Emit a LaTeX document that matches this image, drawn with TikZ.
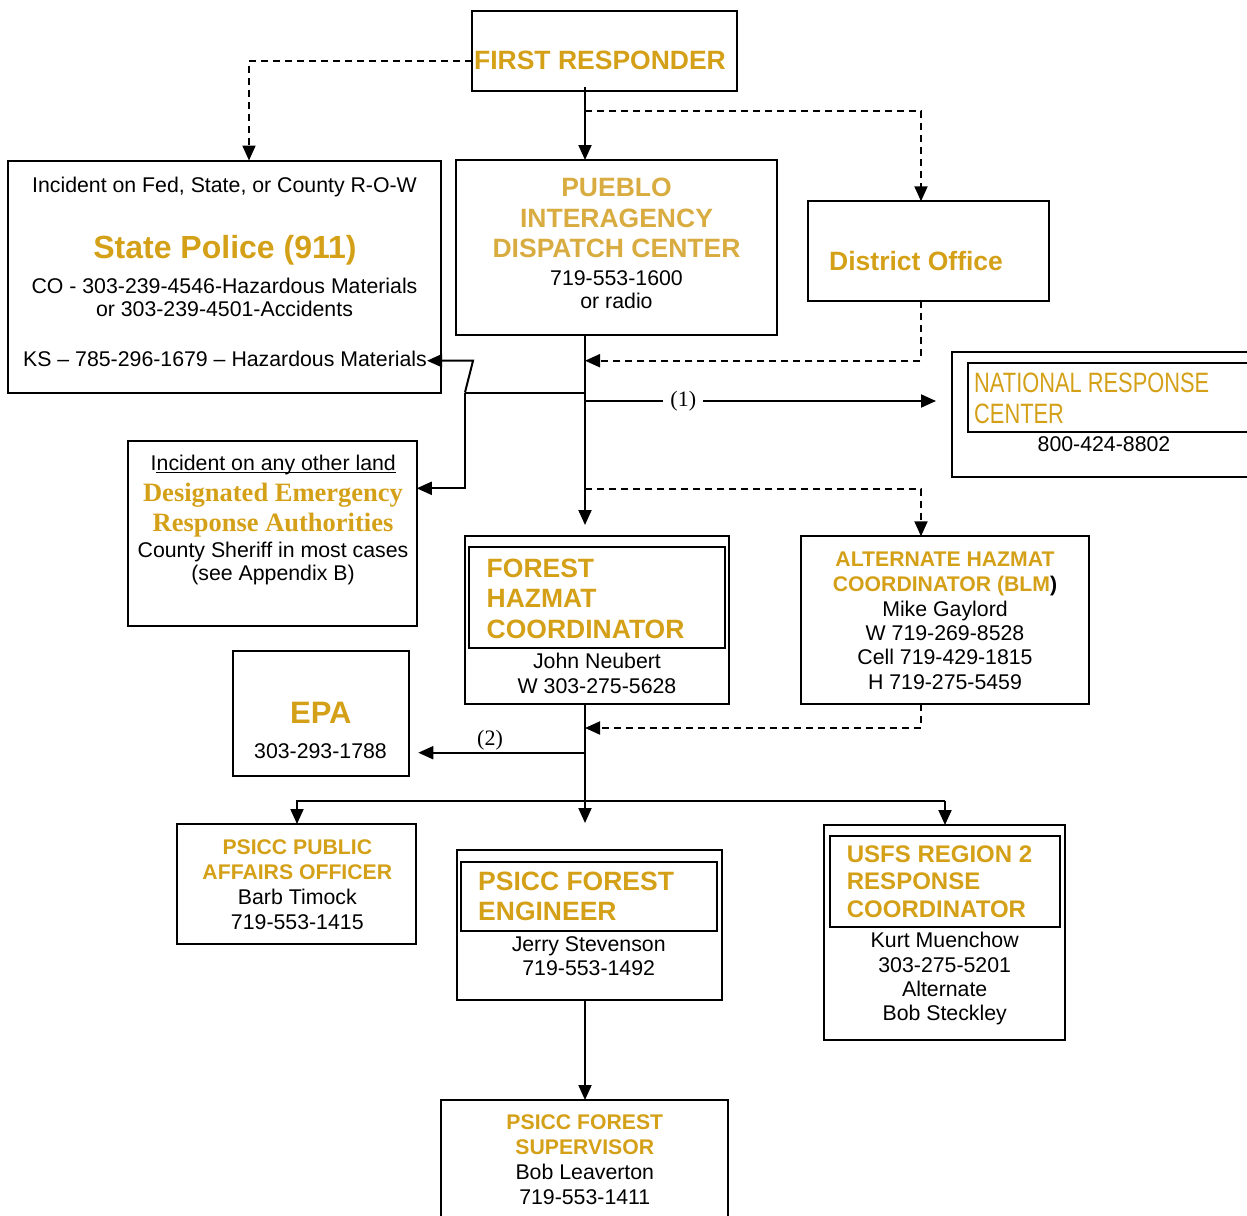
\documentclass[tikz,border=0pt]{standalone}
\usepackage{graphicx}
\usepackage{fontspec}
\setmainfont{Liberation Sans}
\newfontfamily\timesf{Liberation Serif}
\usetikzlibrary{arrows.meta}
\definecolor{gold}{RGB}{212,160,23}
\definecolor{goldlt}{RGB}{216,172,64}
\newcommand\txtlines[6]{\foreach \tline [count=\i] in {#6} {\node[#5] (#1\i) at (#2,{#3+(\i-1)*#4}) {\tline};}}
\tikzset{
  box/.style={draw, line width=2pt, inner sep=0pt, outer sep=0pt},
  ghost/.style={inner sep=0pt, outer sep=0pt},
  body/.style={font=\fontsize{21.3}{24}\selectfont, inner sep=0pt, anchor=base},
  title/.style={font=\bfseries\fontsize{26.5}{30}\selectfont, text=gold, inner sep=0pt, anchor=base},
  stitle/.style={font=\bfseries\fontsize{21.2}{24}\selectfont, text=gold, inner sep=0pt, anchor=base},
  conn/.style={line width=2pt},
  arr/.style={conn, -{Triangle[length=15pt,width=13pt]}},
  dl/.style={dash pattern=on 7pt off 5pt},
  lbl/.style={font=\timesf\fontsize{22}{24}\selectfont, inner sep=0pt},
}
\begin{document}
\begin{tikzpicture}[x=1pt,y=-1pt]
\useasboundingbox (0,0) rectangle (1247,1215);

% ---------- boxes ----------
\node[box, minimum width=265pt, minimum height=80pt] (fr) at (604.5,51) {};
\node[title] (frt) at (600,70) {FIRST RESPONDER};

\node[box, minimum width=433pt, minimum height=232pt] (sp) at (224.5,276.5) {};
\node[body] (sp1) at (224.5,192.3) {Incident on Fed, State, or County R-O-W};
\node[title, font=\bfseries\fontsize{32}{36}\selectfont] (sp2) at (225,258) {State Police (911)};
\txtlines{spb}{224.5}{293}{23.7}{body}{CO - 303-239-4546-Hazardous Materials, or 303-239-4501-Accidents}
\node[body] (sp5) at (225,366) {KS – 785-296-1679 – Hazardous Materials};

\node[box, minimum width=321pt, minimum height=175pt] (pd) at (616.5,247.5) {};
\txtlines{pdt}{616.5}{196.7}{30.3}{title, text=goldlt}{PUEBLO, INTERAGENCY, DISPATCH CENTER}
\txtlines{pdb}{616.5}{285}{23.3}{body}{719-553-1600, or radio}

\node[box, minimum width=241pt, minimum height=100pt] (do) at (928.5,251.3) {};
\node[title, anchor=base west] (dot) at (829,270) {District Office};

\node[ghost, minimum width=295pt, minimum height=125pt] (nrc) at (1099.5,414) {};
\draw[conn] (nrc.north east) -- (nrc.north west) -- (nrc.south west) -- (nrc.south east);
\node[ghost, minimum width=280pt, minimum height=68.5pt] (nrci) at (1107.5,397.5) {};
\draw[conn] (nrci.north east) -- (nrci.north west) -- (nrci.south west) -- (nrci.south east);
\node[font=\fontsize{28}{31}\selectfont, text=gold, anchor=base west, inner sep=0pt] (nrct1) at (974,392.3) {\scalebox{0.78}[1]{NATIONAL RESPONSE}};
\node[font=\fontsize{28}{31}\selectfont, text=gold, anchor=base west, inner sep=0pt] (nrct2) at (974,423.3) {\scalebox{0.78}[1]{CENTER}};
\node[body] (nrcb) at (1104,451.7) {800-424-8802};

\node[box, minimum width=288.5pt, minimum height=185pt] (de) at (272.5,533.5) {};
\node[body] (de1) at (273.3,470.7) {Incident on any other land};
\draw[line width=1.2pt] ([xshift=5pt,yshift=-1.8pt]de1.base west) -- ([yshift=-1.8pt]de1.base east);
\txtlines{det}{273}{501.7}{30}{title, font=\timesf\bfseries\fontsize{26.5}{30}\selectfont}{Designated Emergency, Response Authorities}
\txtlines{deb}{273}{557.3}{23.4}{body}{County Sheriff in most cases, (see Appendix B)}

\node[box, minimum width=264pt, minimum height=168pt] (fh) at (596.5,620.3) {};
\node[box, minimum width=255.5pt, minimum height=100.4pt] (fhi) at (596.8,597.5) {};
\txtlines{fht}{486.5}{577.3}{30.5}{title, anchor=base west}{FOREST, HAZMAT, COORDINATOR}
\txtlines{fhb}{597}{668.3}{25}{body}{John Neubert, W 303-275-5628}

\node[box, minimum width=288pt, minimum height=168pt] (ah) at (944.7,620.3) {};
\txtlines{aht}{945}{566.7}{25}{stitle}{ALTERNATE HAZMAT, {COORDINATOR (BLM\textcolor{black}{)}}}
\txtlines{ahb}{945}{616}{24.4}{body}{Mike Gaylord, W 719-269-8528, Cell 719-429-1815, H 719-275-5459}

\node[box, minimum width=176.5pt, minimum height=125pt] (epa) at (320.8,713) {};
\node[title, font=\bfseries\fontsize{31}{34}\selectfont] (epat) at (320.8,723.3) {EPA};
\node[body] (epab) at (320.5,758.3) {303-293-1788};

\node[box, minimum width=239.5pt, minimum height=120pt] (pa) at (296.7,884) {};
\txtlines{pat}{297.3}{854.3}{25}{stitle}{PSICC PUBLIC, AFFAIRS OFFICER}
\txtlines{pab}{297.3}{904.3}{24.7}{body}{Barb Timock, 719-553-1415}

\node[box, minimum width=265pt, minimum height=150pt] (fe) at (589.3,925) {};
\node[box, minimum width=256pt, minimum height=69pt] (fei) at (589,896.2) {};
\txtlines{fet}{478}{890.7}{29.3}{title, anchor=base west}{PSICC FOREST, ENGINEER}
\txtlines{feb}{588.7}{951.7}{24}{body}{Jerry Stevenson, 719-553-1492}

\node[box, minimum width=240.7pt, minimum height=215pt] (us) at (944.7,932.5) {};
\node[box, minimum width=230pt, minimum height=91.6pt] (usi) at (945,881.5) {};
\txtlines{ust}{846.7}{862.3}{27.5}{title, anchor=base west, font=\bfseries\fontsize{24}{27}\selectfont}{USFS REGION 2, RESPONSE, COORDINATOR}
\txtlines{usb}{944.7}{947.7}{24.4}{body}{Kurt Muenchow, 303-275-5201, Alternate, Bob Steckley}

\node[ghost, minimum width=287.6pt, minimum height=117pt] (fs) at (584.5,1158.5) {};
\draw[conn] (fs.south west) -- (fs.north west) -- (fs.north east) -- (fs.south east);
\txtlines{fst}{584.8}{1129.3}{25}{stitle}{PSICC FOREST, SUPERVISOR}
\txtlines{fsb}{584.8}{1179.3}{25}{body}{Bob Leaverton, 719-553-1411}

% ---------- connectors ----------
\coordinate (trunk) at (585,0);
\coordinate (a1) at (249,61);
\draw[arr,dl] (fr.west |- a1) -- (a1) -- (a1 |- sp.north);
\draw[arr] ([yshift=4pt]trunk |- fr.south) -- (trunk |- pd.north);
\coordinate (a3) at (585,111);
\coordinate (a3r) at (921,111);
\draw[arr,dl] (a3) -- (a3r) -- (a3r |- do.north);
\coordinate (a4) at (585,525);
\draw[arr] (trunk |- pd.south) -- (a4);
\coordinate (a5) at (921,360.7);
\draw[arr,dl] (a5 |- do.south) -- (a5) -- (trunk |- a5);
\coordinate (a6) at (465,392.5);
\coordinate (a6t) at (473,360.7);
\coordinate (a6d) at (465,488.3);
\draw[conn] (trunk |- a6) -- (a6);
\draw[arr] (a6) -- (a6t) -- (a6t -| sp5.east);
\draw[arr] (a6) -- (a6d) -- (de.east |- a6d);
\coordinate (a7) at (585,401);
\coordinate (a7e) at (936,401);
\draw[arr] (a7) -- node[pos=0.28, lbl, fill=white, minimum width=40pt] (l1) {(1)} (a7e);
\coordinate (a8) at (921,488.5);
\draw[arr,dl] (trunk |- a8) -- (a8) -- (a8 |- ah.north);
\coordinate (a9) at (585,823);
\draw[arr] (trunk |- fh.south) -- (a9);
\coordinate (a10) at (921,728);
\draw[arr,dl] (a10 |- ah.south) -- (a10) -- (trunk |- a10);
\coordinate (a11) at (585,752.7);
\coordinate (a11e) at (418.3,752.7);
\draw[arr] (a11) -- (a11e);
\node[lbl, anchor=base] (l2) at (490,745) {(2)};
\coordinate (bl) at (297,800.7);
\coordinate (br) at (945,800.7);
\draw[arr] (br) -- (bl) -- (bl |- pa.north);
\draw[arr] (br) -- (br |- us.north);
\draw[arr] (trunk |- fe.south) -- (trunk |- fs.north);
\end{tikzpicture}
\end{document}
